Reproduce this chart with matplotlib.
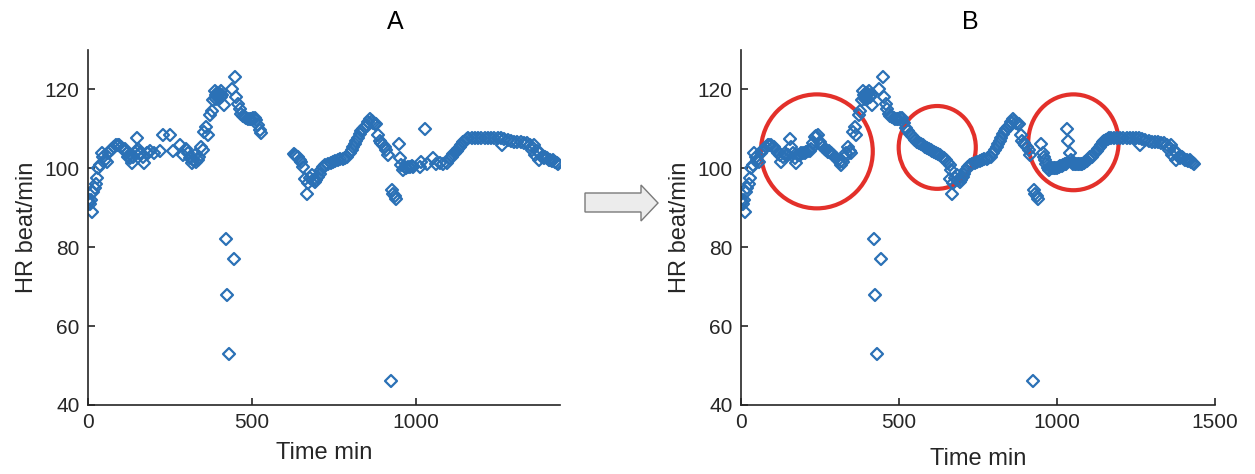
import numpy as np
import matplotlib.pyplot as plt
from matplotlib.markers import MarkerStyle
from matplotlib.patches import Ellipse, Polygon

plt.rcParams['font.family'] = ['Liberation Sans', 'DejaVu Sans']

# ---- heart rate samples (min, beat/min) ----
# pieces shared by both plots
t_start = [0, 2, 5, 8, 12, 16, 20, 24, 28, 32, 37, 42, 47, 52, 57, 62, 67, 72, 78, 84, 90, 96, 102]
hr_start = [92, 91.5, 91, 92, 89, 94, 95, 96, 97.5, 100, 100.8, 104, 103, 102, 101.6, 104, 104.5,
            105, 105.5, 105.8, 105.8, 105.8, 105.5]

t_peak = [355, 360, 365, 372, 377, 382, 387, 390, 392, 395, 397, 400, 402, 405, 407, 410, 415,
          438, 448, 453, 458, 463, 468, 473, 478, 483, 488, 493, 498, 503]
hr_peak = [109.2, 110.4, 108.4, 113.4, 114.6, 117.2, 119.7, 118.5, 117.6, 119, 118.5, 117.5, 118.8,
           119.5, 118, 118.5, 116, 120.2, 123.1, 118, 116.2, 115, 113.8, 113.3, 113, 112.8, 112.6,
           112.6, 112.6, 112.8]

t_valley = [661, 667, 672, 677, 682, 687, 692, 697, 702, 707, 712, 717, 724, 732, 740, 748, 755, 763,
            770, 777, 783, 790, 799, 804, 809, 814, 819, 824, 829, 834, 839, 845, 850, 855, 860, 865,
            870, 875, 880, 885, 890, 895, 900, 905, 910, 916]
hr_valley = [97.4, 93.6, 96.2, 97.5, 98.2, 97, 96.5, 97, 97.7, 98.5, 99.5, 100.3, 100.8, 101.2, 101.4,
             101.6, 101.8, 102, 102.3, 102.3, 102.5, 103, 103.8, 104.6, 105.4, 106.2, 107, 107.8,
             108.8, 109.4, 110, 110.4, 110.8, 111.8, 112.6, 112, 111.4, 111.2, 111.2, 108.4, 107,
             106.5, 106, 105.3, 104.7, 103.3]

t_low = [421, 425, 430, 444, 924, 926, 931, 936, 941]
hr_low = [82, 68, 53, 77, 46, 94.4, 93.6, 93, 92.3]

t_tail = [1170, 1180, 1190, 1200, 1210, 1220, 1230, 1240, 1250, 1260, 1262, 1270, 1280, 1290, 1300,
          1310, 1320, 1330, 1340, 1348, 1355, 1360, 1365, 1370, 1375, 1380, 1385, 1390, 1395, 1400,
          1405, 1410, 1415, 1420, 1425, 1430, 1435]
hr_tail = [107.6, 107.6, 107.6, 107.6, 107.6, 107.6, 107.6, 107.6, 107.6, 107.6, 105.8, 107.4, 107.2,
           107, 106.8, 106.7, 106.6, 106.5, 106.3, 105.8, 104.6, 105.8, 103.4, 104.5, 102.2, 103.8,
           103, 102.5, 103, 102.5, 102.2, 102, 101.8, 102.2, 101.6, 101.3, 101]

# plot A only: sparse stretches
t_a1 = [108, 113, 118, 123, 128, 133, 138, 143, 148, 151, 153, 158, 163, 168, 172, 179, 184, 189,
        200, 220, 230, 250, 260, 280, 290, 300, 306, 311, 316, 321, 326, 331, 336, 340, 345, 350]
hr_a1 = [105, 105, 103.8, 103, 102.6, 101.3, 103, 103.8, 104.5, 107.6, 105, 103.8, 104, 103, 101.3,
         103.8, 104, 104.3, 104, 104.3, 108.4, 108.4, 104.3, 105.8, 103.5, 105, 104, 102.5, 101.3,
         102, 103.3, 101.5, 102.2, 103, 105.4, 104.7]
t_a2 = [509, 514, 519, 524, 529, 628, 632, 636, 641, 646, 651, 656]
hr_a2 = [112.8, 112.2, 111, 109.6, 109, 103.7, 103.5, 103.2, 103, 102, 101.6, 100.4]
t_a3 = [948, 951, 956, 961, 966, 971, 976, 981, 987, 992, 1012, 1017, 1028, 1034, 1053, 1063, 1073,
        1083, 1094, 1104, 1109, 1114, 1120, 1125, 1129, 1134, 1139, 1144, 1150, 1155, 1160]
hr_a3 = [106.2, 102.6, 100.8, 99.5, 100.3, 100, 100.3, 100.3, 100.5, 100.3, 100.3, 101.6, 110, 101,
         102.5, 101, 101.3, 101, 101.3, 102.5, 103, 103.7, 104, 104.5, 105, 105.5, 106, 106.6, 107,
         107.5, 107.8]

# plot B only: filled stretches
t_b1 = [106, 112, 117, 122, 128, 133, 138, 143, 149, 154, 159, 164, 170, 175, 180, 186, 191, 196,
        202, 207, 212, 217, 222, 227, 233, 238, 243, 249, 254, 259, 265, 270, 275, 280, 286, 291,
        296, 301, 307, 312, 317, 322, 328, 333, 338, 344, 349]
hr_b1 = [105.5, 104.6, 104, 103.5, 101.6, 103, 104, 103.5, 103.5, 107.5, 105.4, 104, 102.5, 101.3,
         103.5, 103.5, 103.8, 103.8, 104, 104.2, 104.3, 104.5, 105, 106.5, 108, 108.2, 108.4, 106.8,
         106, 105.4, 105, 104.6, 104.2, 104.5, 103.8, 103.5, 103, 102.5, 102, 101.6, 100.8, 101.5,
         103, 104, 105.4, 104.5, 103.8]
t_b2 = [510, 516, 522, 528, 534, 540, 546, 552, 558, 564, 570, 576, 582, 588, 594, 600, 606, 612,
        618, 624, 630, 636, 642, 648, 654, 660, 664]
hr_b2 = [112.8, 111.5, 110.3, 109.5, 108.8, 108.3, 107.8, 107.2, 106.8, 106.4, 106.2, 105.8, 105.4,
         105.1, 104.9, 104.6, 104.4, 104.2, 103.9, 103.6, 103.4, 103, 102.6, 102, 101.3, 100.8, 99.5]
t_b3 = [950, 955, 958, 962, 966, 970, 975, 980, 985, 990, 995, 1000, 1005, 1010, 1015, 1020, 1025,
        1028, 1032, 1036, 1040, 1044, 1048, 1052, 1056, 1060, 1065, 1070, 1075, 1080, 1085, 1090,
        1095, 1100, 1105, 1110, 1115, 1120, 1125, 1130, 1135, 1140, 1145, 1150, 1155, 1160, 1165]
hr_b3 = [106.2, 104, 103, 102, 101, 100, 99.6, 100, 100, 100, 100, 100.2, 100.3, 100.5, 100.6, 100.8,
         101, 101.2, 110, 107, 104, 102, 101.5, 101.2, 101.2, 101, 101, 101, 101, 101.2, 101.4, 101.6,
         101.8, 102.3, 102.8, 103, 103.5, 104, 104.5, 105, 105.4, 106, 106.6, 107, 107.3, 107.5, 107.6]

# highlighted regions on plot B: (centre time, centre hr, width, height)
circles_b = [(240, 104.3, 354, 28.9), (621, 105.3, 244, 21), (1052, 106.6, 286, 24.3)]

t_a = np.concatenate([t_start, t_a1, t_peak, t_a2, t_valley, t_low, t_a3, t_tail])
hr_a = np.concatenate([hr_start, hr_a1, hr_peak, hr_a2, hr_valley, hr_low, hr_a3, hr_tail])
t_b = np.concatenate([t_start, t_b1, t_peak, t_b2, t_valley, t_low, t_b3, t_tail])
hr_b = np.concatenate([hr_start, hr_b1, hr_peak, hr_b2, hr_valley, hr_low, hr_b3, hr_tail])

BLUE = '#2b71b6'
INK = '#262626'
DIAMOND = MarkerStyle('D', joinstyle='round')

fig = plt.figure(figsize=(12.55, 4.74), dpi=100)
ax_a = fig.add_axes([88 / 1255, 69 / 474, 472 / 1255, 355 / 474])
ax_b = fig.add_axes([741 / 1255, 69 / 474, 474 / 1255, 355 / 474])


def draw(ax, t, hr, xmax, xticks, xpad):
    ax.plot(t, hr, linestyle='none', marker=DIAMOND, ms=6.3, mfc='none', mec=BLUE, mew=1.6)
    ax.set_xlim(0, xmax)
    ax.set_ylim(40, 130)
    ax.set_xticks(xticks)
    ax.set_yticks([40, 60, 80, 100, 120])
    for s in ['top', 'right']:
        ax.spines[s].set_visible(False)
    for s in ['left', 'bottom']:
        ax.spines[s].set_color(INK)
        ax.spines[s].set_linewidth(1.2)
    ax.tick_params(direction='in', length=5, width=1.2, colors=INK, labelsize=15, pad=6)
    ax.set_xlabel('Time min', fontsize=17, color=INK, labelpad=xpad)
    ax.set_ylabel('HR beat/min', fontsize=17, color=INK, labelpad=5)


draw(ax_a, t_a, hr_a, 1440, [0, 500, 1000], 7)
draw(ax_b, t_b, hr_b, 1500, [0, 500, 1000, 1500], 11)

for cx, cy, w, h in circles_b:
    ax_b.add_patch(Ellipse((cx, cy), w, h, fill=False, ec='#e3302a', lw=3, clip_on=False))

fig.text(395 / 1255, 1 - 22 / 474, 'A', ha='center', va='center', fontsize=18)
fig.text(970 / 1255, 1 - 22 / 474, 'B', ha='center', va='center', fontsize=18)

# block arrow between the two plots (figure pixels)
arrow = [(585, 193), (641, 193), (641, 185), (658, 203), (641, 221), (641, 212), (585, 212)]
arrow = [(x / 1255, 1 - y / 474) for x, y in arrow]
fig.patches.append(Polygon(arrow, closed=True, fc='#ececec', ec='#7a7a7a', lw=1,
                           transform=fig.transFigure))

fig.savefig('out.png', dpi=100)
